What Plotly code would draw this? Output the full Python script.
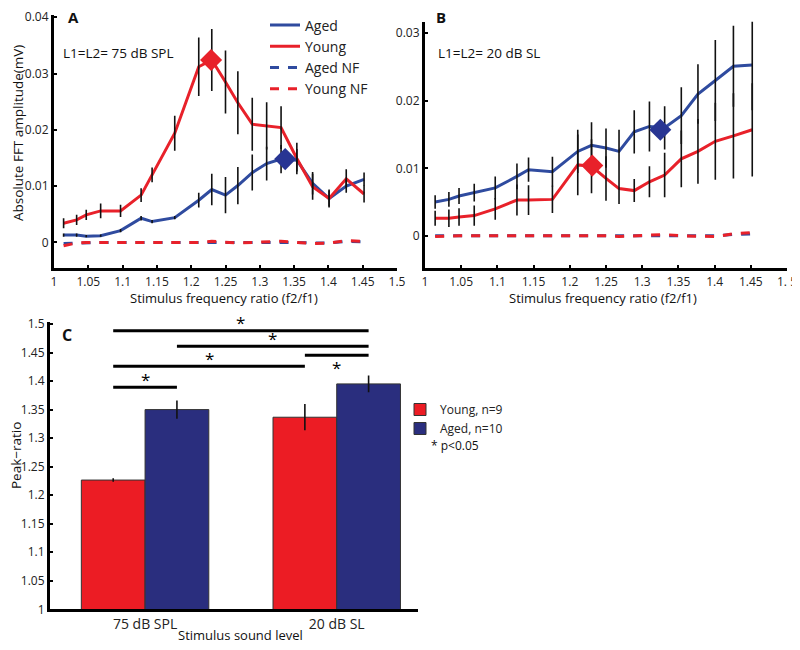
import plotly.graph_objects as go

# stimulus frequency ratios (f2/f1)
ratio = [1.014, 1.033, 1.047, 1.068, 1.097, 1.127, 1.143, 1.176, 1.211, 1.230,
         1.250, 1.268, 1.289, 1.310, 1.331, 1.354, 1.377, 1.401, 1.426, 1.452]

# panel A: L1=L2=75 dB SPL
young_a = [0.0034, 0.0040, 0.0049, 0.0056, 0.0056, 0.0084, 0.0120, 0.0194, 0.0312, 0.0324,
           0.0285, 0.0248, 0.0210, 0.0207, 0.0204, 0.0149, 0.0099, 0.0078, 0.0113, 0.0086]
young_a_err = [0.0009, 0.0009, 0.0009, 0.0013, 0.0011, 0.0012, 0.0013, 0.0031, 0.0052, 0.0055,
               0.0056, 0.0056, 0.0047, 0.0042, 0.0038, 0.0028, 0.0023, 0.0016, 0.0017, 0.0015]
aged_a = [0.0013, 0.0013, 0.0011, 0.0012, 0.0021, 0.0043, 0.0037, 0.0044, 0.0075, 0.0094,
          0.0084, 0.0101, 0.0124, 0.0140, 0.0148, 0.0146, 0.0105, 0.0078, 0.0100, 0.0112]
aged_a_err = [0.0003, 0.0003, 0.0002, 0.0002, 0.0003, 0.0004, 0.0003, 0.0003, 0.0013, 0.0028,
              0.0032, 0.0033, 0.0032, 0.0030, 0.0025, 0.0020, 0.0020, 0.0014, 0.0012, 0.0012]
young_nf_a = [-0.0006, -0.0001, 0.0, 0.0, 0.0, 0.0, 0.0, 0.0, 0.0, 0.0002,
              0.0, -0.0001, 0.0, 0.0001, 0.0002, 0.0, -0.0002, -0.0001, 0.0003, 0.0002]
aged_nf_a = [-0.0002, -0.0001, -0.0001, 0.0, 0.0, 0.0, 0.0, 0.0, 0.0, 0.0001,
             0.0, 0.0, 0.0, 0.0, 0.0001, 0.0, -0.0001, -0.0001, 0.0002, 0.0001]
peak_a_x = [1.229, 1.337]          # young, aged
peak_a_y = [0.0324, 0.0148]

# panel B: L1=L2=20 dB SL
young_b = [0.0026, 0.0026, 0.0028, 0.0030, 0.0040, 0.0053, 0.0053, 0.0054, 0.0105, 0.0103,
           0.0085, 0.0070, 0.0067, 0.0080, 0.0090, 0.0114, 0.0125, 0.0140, 0.0148, 0.0157]
young_b_err = [0.0011, 0.0013, 0.0013, 0.0015, 0.0016, 0.0023, 0.0022, 0.0020, 0.0045, 0.0040,
               0.0033, 0.0023, 0.0017, 0.0023, 0.0033, 0.0042, 0.0048, 0.0057, 0.0063, 0.0069]
aged_b = [0.0050, 0.0054, 0.0059, 0.0064, 0.0071, 0.0088, 0.0098, 0.0095, 0.0125, 0.0134,
          0.0130, 0.0125, 0.0154, 0.0162, 0.0160, 0.0178, 0.0210, 0.0230, 0.0251, 0.0253]
aged_b_err = [0.0010, 0.0011, 0.0012, 0.0013, 0.0017, 0.0019, 0.0018, 0.0022, 0.0032, 0.0034,
              0.0029, 0.0032, 0.0032, 0.0037, 0.0032, 0.0042, 0.0044, 0.0060, 0.0060, 0.0067]
young_nf_b = [-0.0001, 0.0, 0.0, 0.0, 0.0, 0.0, 0.0, 0.0, 0.0001, 0.0001,
              0.0, -0.0001, 0.0, 0.0001, 0.0002, 0.0, -0.0001, -0.0001, 0.0003, 0.0005]
aged_nf_b = [0.0, 0.0, 0.0, 0.0, 0.0, 0.0, 0.0, 0.0, 0.0, 0.0001,
             0.0, 0.0, 0.0, 0.0, 0.0001, 0.0, 0.0, 0.0, 0.0002, 0.0003]
peak_b_x = [1.231, 1.325]
peak_b_y = [0.0104, 0.0157]

# panel C: peak ratio
levels = ["75 dB SPL", "20 dB SL"]
young_peak = [1.2265, 1.3366]
young_peak_err = [0.003, 0.023]
aged_peak = [1.350, 1.395]
aged_peak_err = [0.016, 0.0146]
# significant pairs: (bar, bar, bracket height), bars 0..3 = Y75, A75, Y20, A20
sig_pairs = [(0, 3, 1.488), (1, 3, 1.461), (2, 3, 1.445), (0, 2, 1.426), (0, 1, 1.389)]
star_below = [False, False, True, False, False]

RED = "#e8212a"
BLUE = "#2f4b9f"
NAVY = "#2a2e7e"
FONT = "Open Sans"

# the page body keeps its 8px margin, size the figure so the window does not scroll
W, H, PAD = 784, 634, 8


def fx(p):
    return (p - PAD) / W


def fy(p):
    return 1 - (p - PAD) / H


fig = go.Figure()


def add_panel(xa, ya, young, young_err, aged, aged_err, young_nf, aged_nf, px, py, legend):
    fig.add_trace(go.Scatter(x=ratio, y=aged_nf, mode="lines", name="Aged NF", legendrank=3,
                             line=dict(color=BLUE, width=3, dash="dash"), showlegend=legend,
                             xaxis=xa, yaxis=ya))
    fig.add_trace(go.Scatter(x=ratio, y=young_nf, mode="lines", name="Young NF", legendrank=4,
                             line=dict(color=RED, width=3, dash="dash"), showlegend=legend,
                             xaxis=xa, yaxis=ya))
    fig.add_trace(go.Scatter(x=ratio, y=aged, mode="lines", name="Aged", legendrank=1,
                             line=dict(color=BLUE, width=3), showlegend=legend, xaxis=xa, yaxis=ya))
    fig.add_trace(go.Scatter(x=ratio, y=young, mode="lines", name="Young", legendrank=2,
                             line=dict(color=RED, width=3), showlegend=legend, xaxis=xa, yaxis=ya))
    for vals, errs in [(aged, aged_err), (young, young_err)]:
        fig.add_trace(go.Scatter(x=ratio, y=vals, mode="markers", showlegend=False,
                                 marker=dict(size=1, color="rgba(0,0,0,0)"),
                                 error_y=dict(type="data", array=errs, color="#111",
                                              thickness=1.6, width=0),
                                 xaxis=xa, yaxis=ya, hoverinfo="skip"))
    fig.add_trace(go.Scatter(x=px, y=py, mode="markers", showlegend=False,
                             marker=dict(symbol="diamond", size=17, color=[RED, "#283593"]),
                             xaxis=xa, yaxis=ya))


add_panel("x", "y", young_a, young_a_err, aged_a, aged_a_err, young_nf_a, aged_nf_a,
          peak_a_x, peak_a_y, True)
add_panel("x2", "y2", young_b, young_b_err, aged_b, aged_b_err, young_nf_b, aged_nf_b,
          peak_b_x, peak_b_y, False)

# panel C bars
bargap = 0.335
fig.add_trace(go.Bar(x=[0, 1], y=young_peak, name="Young, n=9", marker=dict(color="#ec1c24",
                     line=dict(color="#333", width=1)),
                     error_y=dict(type="data", array=young_peak_err, color="#111", thickness=1.6, width=0),
                     xaxis="x3", yaxis="y3", legend="legend2"))
fig.add_trace(go.Bar(x=[0, 1], y=aged_peak, name="Aged, n=10", marker=dict(color=NAVY,
                     line=dict(color="#333", width=1)),
                     error_y=dict(type="data", array=aged_peak_err, color="#111", thickness=1.6, width=0),
                     xaxis="x3", yaxis="y3", legend="legend2"))

half = (1 - bargap) / 4
bar_x = [g + s * half for g in (0, 1) for s in (-1, 1)]
for (i, j, h), below in zip(sig_pairs, star_below):
    fig.add_trace(go.Scatter(x=[bar_x[i], bar_x[j]], y=[h, h], mode="lines", showlegend=False,
                             line=dict(color="black", width=3), xaxis="x3", yaxis="y3",
                             hoverinfo="skip"))
    fig.add_annotation(x=(bar_x[i] + bar_x[j]) / 2, y=h, xref="x3", yref="y3", text="*",
                       showarrow=False, font=dict(size=17, color="black", family=FONT),
                       yanchor="middle", yshift=-12 if below else 8)

tick = dict(ticks="inside", ticklen=3, tickwidth=1.5, tickcolor="black", showline=True,
            linewidth=3, linecolor="black", showgrid=False, zeroline=False, automargin=False,
            ticklabeloverflow="allow", tickfont=dict(size=12, color="#222", family=FONT))
xt = [1 + 0.05 * k for k in range(11)]
xl = ["1", "1.05", "1.1", "1.15", "1.2", "1.25", "1.3", "1.35", "1.4", "1.45", "1.5"]

fig.update_layout(
    width=W, height=H, margin=dict(l=0, r=0, t=0, b=0, autoexpand=False),
    paper_bgcolor="white", plot_bgcolor="white", barmode="group", bargap=bargap,
    font=dict(family=FONT, color="#111"),
    xaxis=dict(domain=[fx(54), fx(397)], range=[1, 1.5], tickvals=xt, ticktext=xl, anchor="y", **tick),
    yaxis=dict(domain=[fy(268.3), fy(15)], range=[-0.0046, 0.0404],
               tickvals=[0, 0.01, 0.02, 0.03, 0.04], ticktext=["0", "0.01", "0.02", "0.03", "0.04"],
               anchor="x", **tick),
    xaxis2=dict(domain=[fx(425), fx(787)], range=[1, 1.5], tickvals=xt, ticktext=xl[:-1] + ["1. 5"],
                anchor="y2", **tick),
    yaxis2=dict(domain=[fy(268.3), fy(21.7)], range=[-0.0048, 0.0317],
                tickvals=[0, 0.01, 0.02, 0.03], ticktext=["0", "0.01", "0.02", "0.03"], anchor="x2", **tick),
    xaxis3=dict(domain=[fx(50), fx(418)], range=[-0.496, 1.424], tickvals=[0, 1], ticktext=levels,
                anchor="y3", **{**tick, "ticks": "", "tickfont": dict(size=14, color="#222", family=FONT)}),
    yaxis3=dict(domain=[fy(609.3), fy(321.7)], range=[1, 1.504], tickvals=[1 + 0.05 * k for k in range(11)],
                ticktext=["1", "1.05", "1.1", "1.15", "1.2", "1.25", "1.3", "1.35", "1.4", "1.45", "1.5"],
                anchor="x3", **tick),
    legend=dict(x=fx(265), y=fy(9.5), xanchor="left", yanchor="top", bgcolor="rgba(0,0,0,0)",
                font=dict(size=14, family=FONT, color="#222"), itemwidth=30, tracegroupgap=0),
    legend2=dict(x=fx(400), y=fy(395), xanchor="left", yanchor="top", bgcolor="rgba(0,0,0,0)",
                 font=dict(size=12, family=FONT, color="#222"), itemwidth=30),
)

ann = [
    ("A", 66, 17, 15, True), ("B", 434, 17, 15, True), ("C", 60, 335, 16, True),
    ("L1=L2= 75 dB SPL", 61, 53, 13.5, False), ("L1=L2= 20 dB SL", 436, 53, 13.5, False),
    ("* p<0.05", 429, 445, 12, False),
]
for text, x, y, size, bold in ann:
    fig.add_annotation(xref="paper", yref="paper", x=fx(x), y=fy(y),
                       text=f"<b>{text}</b>" if bold else text,
                       showarrow=False, xanchor="left", yanchor="middle",
                       font=dict(size=size, color="#111", family=FONT))

titles = [
    ("Absolute FFT amplitude(mV)", 18, 133, 13.5, -90),
    ("Stimulus frequency ratio (f2/f1)", 224, 298, 13, 0),
    ("Stimulus frequency ratio (f2/f1)", 603, 298, 13, 0),
    ("Peak\u2212ratio", 16, 456, 13.5, -90),
    ("Stimulus sound level", 240, 635, 13, 0),
]
for text, x, y, size, ang in titles:
    fig.add_annotation(xref="paper", yref="paper", x=fx(x), y=fy(y), text=text, showarrow=False,
                       textangle=ang, xanchor="center", yanchor="middle",
                       font=dict(size=size, color="#111", family=FONT))

fig.write_html("out.html")
